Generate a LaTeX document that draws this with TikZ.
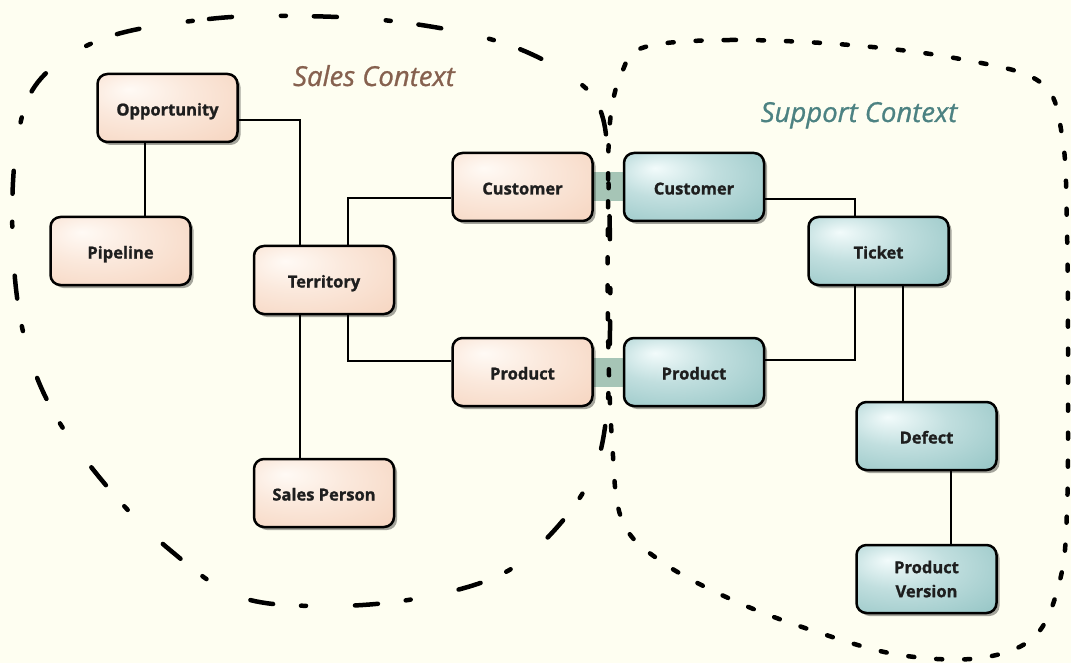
\documentclass[tikz,border=0pt]{standalone}
\usepackage{fontspec}
\setmainfont{Open Sans}[BoldFeatures={FakeBold=1.2}]
\newfontfamily\titlefont{Open Sans}[ItalicFeatures={FakeBold=0.9}]
\usetikzlibrary{shadows,backgrounds}

\definecolor{paper}{HTML}{FEFEF1}
\definecolor{salesin}{HTML}{FFFAF5}
\definecolor{salesout}{HTML}{F1C0A2}
\definecolor{suppin}{HTML}{F2FBFB}
\definecolor{suppout}{HTML}{66AAAA}
\definecolor{bridgecol}{HTML}{A6C5B6}
\definecolor{salestitle}{HTML}{86614F}
\definecolor{supptitle}{HTML}{4C8282}
\definecolor{ink}{HTML}{1E1E1E}

\pgfdeclareradialshading{salesfill}{\pgfpoint{-14bp}{14bp}}{%
  color(0bp)=(salesin); color(18bp)=(salesin!70!salesout); color(70bp)=(salesout)}
\pgfdeclareradialshading{suppfill}{\pgfpoint{-14bp}{14bp}}{%
  color(0bp)=(suppin); color(18bp)=(suppin!65!suppout); color(70bp)=(suppout)}

\tikzset{
  box/.style={draw=black, line width=2.5pt, rounded corners=10pt,
    minimum width=140pt, minimum height=68pt, align=center, text=ink,
    font=\bfseries\fontsize{16.5}{24}\selectfont,
    drop shadow={shadow xshift=3pt, shadow yshift=-3pt, opacity=0.35, fill=black}},
  oneline/.style={text height=15pt, text depth=0pt},
  salesbox/.style={box, oneline, shading=salesfill},
  suppbox/.style={box, oneline, shading=suppfill},
  link/.style={draw=black, line width=2pt},
  bridge/.style={fill=bridgecol},
  salesline/.style={line width=4.5pt, line cap=round,
    dash pattern=on 23pt off 49pt on 5pt off 28pt},
  suppline/.style={line width=4.5pt, line cap=round,
    dash pattern=on 6pt off 22pt},
  ctxtitle/.style={anchor=base, font=\titlefont\itshape\fontsize{27.5}{32}\selectfont},
}

\begin{document}
\begin{tikzpicture}[x=1pt,y=-1pt]
  \useasboundingbox (0,0) rectangle (1071,663);

  % sales context
  \node[salesbox] (opp)    at (167.5,108) {Opportunity};
  \node[salesbox] (pipe)   at (120.5,251) {Pipeline};
  \node[salesbox] (terr)   at (324,280)   {Territory};
  \node[salesbox] (salesp) at (324,493)   {Sales Person};
  \node[salesbox] (custS)  at (522.5,187) {Customer};
  \node[salesbox] (prodS)  at (522.5,372) {Product};

  % support context
  \node[suppbox] (custT)  at (694,187)   {Customer};
  \node[suppbox] (prodT)  at (694,372)   {Product};
  \node[suppbox] (ticket) at (878.5,251) {Ticket};
  \node[suppbox] (defect) at (926.5,436) {Defect};
  \node[box, shading=suppfill] (pver) at (926.5,579) {Product\\Version};

  \node[ctxtitle, text=salestitle] (salesT) at (374,86)  {Sales Context};
  \node[ctxtitle, text=supptitle]  (suppT)  at (859,122) {Support Context};

  % links
  \draw[link] ([xshift=-23pt]opp.south) -- ([xshift=-23pt]opp.south |- pipe.north);
  \draw[link] ([yshift=-12pt]opp.east) -| ([xshift=-24pt]terr.north);
  \draw[link] ([xshift=24pt]terr.north) |- ([yshift=-11pt]custS.west);
  \draw[link] ([xshift=24pt]terr.south) |- ([yshift=11pt]prodS.west);
  \draw[link] ([xshift=-24pt]terr.south) -- ([xshift=-24pt]salesp.north);
  \draw[link] ([yshift=-12pt]custT.east) -| ([xshift=-24pt]ticket.north);
  \draw[link] ([xshift=-24pt]ticket.south) |- ([yshift=12pt]prodT.east);
  \draw[link] ([xshift=24pt]ticket.south) -- ([xshift=24pt]ticket.south |- defect.north);
  \draw[link] ([xshift=24pt]defect.south) -- ([xshift=24pt]pver.north);

  \begin{scope}[on background layer]
    \fill[paper] (0,0) rectangle (1071,663);
    \fill[bridge] ([yshift=14.5pt]custS.east) rectangle ([yshift=-14.5pt]custT.west);
    \fill[bridge] ([yshift=14.5pt]prodS.east) rectangle ([yshift=-14.5pt]prodT.west);
    % context borders
    \draw[salesline] plot[smooth cycle, tension=0.6] coordinates {
      (105,38) (209,19) (300,16) (400,22) (500,42) (570,76) (602,115)
      (609,200) (610,330) (606,420) (590,480) (550,535) (500,575)
      (420,598) (330,606) (240,597) (170,550) (110,490) (55,415)
      (25,340) (13,250) (16,150) (38,82)};
    \draw[suppline] plot[smooth cycle, tension=0.6] coordinates {
      (645,47) (730,40) (850,45) (960,59) (1040,82) (1062,135)
      (1067,230) (1068,380) (1067,510) (1060,580) (1035,636) (980,658)
      (900,655) (820,633) (737,602) (662,562) (622,520) (612,440)
      (608,330) (608,210) (610,122) (622,72)};
  \end{scope}
\end{tikzpicture}
\end{document}
